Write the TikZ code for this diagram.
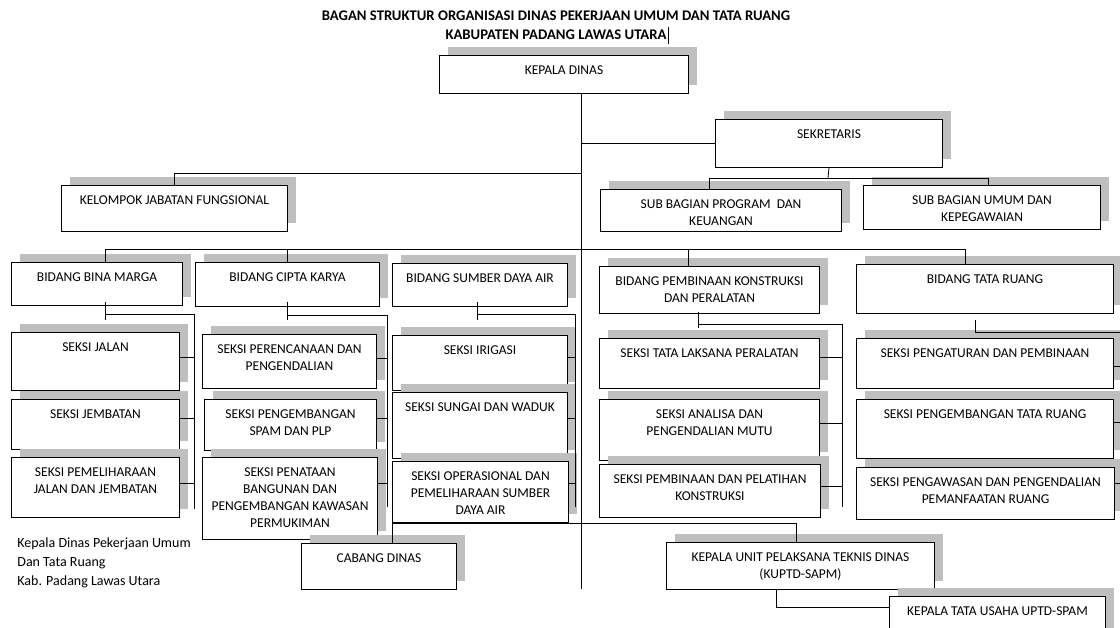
\documentclass[tikz,border=0pt]{standalone}
\usepackage{fontspec}
\setmainfont{Carlito}
\usetikzlibrary{shadows}

\begin{document}
\begin{tikzpicture}[x=1pt, y=-1pt, line width=0.8pt]
    % Define block styles
    \tikzstyle{block} = [rectangle, draw, fill=white, anchor=north west, inner sep=0pt, line width=1pt, drop shadow={shadow xshift=8pt, shadow yshift=9pt, fill=black!25, opacity=1}]
    \tikzstyle{lbl} = [anchor=north, yshift=-10.5pt, align=center, inner sep=0pt, font=\fontsize{13.5}{17}\selectfont]
    \tikzstyle{titletext} = [inner sep=0pt, font=\bfseries\fontsize{14.7}{17}\selectfont]
    \useasboundingbox (0,0) rectangle (1120,627);

    % Title
    \node[titletext] (title1) at (556,16) {BAGAN STRUKTUR ORGANISASI DINAS PEKERJAAN UMUM DAN TATA RUANG};
    \node[titletext] (title2) at (556,35) {KABUPATEN PADANG LAWAS UTARA};
    \draw[line width=0.6pt] ([xshift=1.5pt,yshift=3pt]title2.north east) -- ([xshift=1.5pt,yshift=-4pt]title2.south east);

    % Place nodes
    \node[block, minimum width=249pt, minimum height=38pt, label={[lbl]north:KEPALA DINAS}] (kadis) at (439,55) {};
    \node[block, minimum width=227pt, minimum height=48pt, label={[lbl]north:SEKRETARIS}] (sekr) at (715,119) {};
    \node[block, minimum width=226pt, minimum height=46pt, label={[lbl]north:KELOMPOK JABATAN FUNGSIONAL}] (kjf) at (61,185) {};
    \node[block, minimum width=241pt, minimum height=42pt, label={[lbl]north:SUB BAGIAN PROGRAM\ \ DAN\\KEUANGAN}] (sbp) at (600,189) {};
    \node[block, minimum width=237pt, minimum height=44pt, label={[lbl]north:SUB BAGIAN UMUM DAN\\KEPEGAWAIAN}] (sbu) at (863,185) {};

    \node[block, minimum width=171pt, minimum height=43pt, label={[lbl]north:BIDANG BINA MARGA}] (bm) at (11,262) {};
    \node[block, minimum width=184pt, minimum height=44pt, label={[lbl]north:BIDANG CIPTA KARYA}] (bck) at (195,262) {};
    \node[block, minimum width=175pt, minimum height=43pt, label={[lbl]north:BIDANG SUMBER DAYA AIR}] (bsda) at (392,263) {};
    \node[block, minimum width=220pt, minimum height=47pt, label={[lbl]north:BIDANG PEMBINAAN KONSTRUKSI\\DAN PERALATAN}] (bpk) at (599,266) {};
    \node[block, minimum width=257pt, minimum height=49pt, label={[lbl]north:BIDANG TATA RUANG}] (btr) at (856,264) {};

    \node[block, minimum width=168pt, minimum height=58pt, label={[lbl]north:SEKSI JALAN}] (jalan) at (11,332) {};
    \node[block, minimum width=168pt, minimum height=50pt, label={[lbl]north:SEKSI JEMBATAN}] (jembatan) at (11,399) {};
    \node[block, minimum width=168pt, minimum height=60pt, label={[lbl]north:SEKSI PEMELIHARAAN\\JALAN DAN JEMBATAN}] (pemel) at (11,457) {};

    \node[block, minimum width=174pt, minimum height=54pt, label={[lbl]north:SEKSI PERENCANAAN DAN\\PENGENDALIAN}] (perenc) at (202,334) {};
    \node[block, minimum width=172pt, minimum height=51pt, label={[lbl]north:SEKSI PENGEMBANGAN\\SPAM DAN PLP}] (spam) at (204,399) {};
    \node[block, minimum width=175pt, minimum height=82pt, label={[lbl]north:SEKSI PENATAAN\\BANGUNAN DAN\\PENGEMBANGAN KAWASAN\\PERMUKIMAN}] (penataan) at (202,457) {};

    \node[block, minimum width=175pt, minimum height=55pt, label={[lbl]north:SEKSI IRIGASI}] (irigasi) at (392,335) {};
    \node[block, minimum width=175pt, minimum height=66pt, label={[lbl]north:SEKSI SUNGAI DAN WADUK}] (sungai) at (392,392) {};
    \node[block, minimum width=176pt, minimum height=61pt, label={[lbl]north:SEKSI OPERASIONAL DAN\\PEMELIHARAAN SUMBER\\DAYA AIR}] (ops) at (392,461) {};

    \node[block, minimum width=220pt, minimum height=50pt, label={[lbl]north:SEKSI TATA LAKSANA PERALATAN}] (tatalaks) at (599,338) {};
    \node[block, minimum width=220pt, minimum height=61pt, label={[lbl]north:SEKSI ANALISA DAN\\PENGENDALIAN MUTU}] (analisa) at (599,399) {};
    \node[block, minimum width=221pt, minimum height=53pt, label={[lbl]north:SEKSI PEMBINAAN DAN PELATIHAN\\KONSTRUKSI}] (pelatihan) at (599,464) {};

    \node[block, minimum width=257pt, minimum height=50pt, label={[lbl]north:SEKSI PENGATURAN DAN PEMBINAAN}] (pengaturan) at (856,338) {};
    \node[block, minimum width=257pt, minimum height=59pt, label={[lbl]north:SEKSI PENGEMBANGAN TATA RUANG}] (pengembtr) at (856,399) {};
    \node[block, minimum width=258pt, minimum height=52pt, label={[lbl]north:SEKSI PENGAWASAN DAN PENGENDALIAN\\PEMANFAATAN RUANG}] (pengawasan) at (856,467) {};

    \node[block, minimum width=155pt, minimum height=46pt, label={[lbl]north:CABANG DINAS}] (cabang) at (301,543) {};
    \node[block, minimum width=268pt, minimum height=47pt, label={[lbl]north:KEPALA UNIT PELAKSANA TEKNIS DINAS\\(KUPTD-SAPM)}] (kuptd) at (666,542) {};
    \node[block, minimum width=216pt, minimum height=50pt, label={[lbl]north:KEPALA TATA USAHA UPTD-SPAM}] (ktu) at (889,596) {};

    \node[anchor=north west, align=left, inner sep=0pt, font=\fontsize{14}{19}\selectfont] (ket) at (17,537) {Kepala Dinas Pekerjaan Umum\\Dan Tata Ruang\\Kab. Padang Lawas Utara};

    % Junction points
    \coordinate (spine) at (581,589);
    \coordinate (jsek) at (828,178);
    \coordinate (jkjf) at (581,173);
    \coordinate (bus) at (581,249);
    \coordinate (rbm) at (194,509);
    \coordinate (rck) at (387,507);
    \coordinate (rsda) at (575,507);
    \coordinate (rbpk) at (842,507);
    \coordinate (rtr) at (1122,520);

    % Draw connections
    \draw (kadis.south -| spine) -- (spine);
    \draw (sekr.west -| spine) -- (sekr.west);
    \draw (kjf.north) |- (jkjf);
    \draw (sekr.south) -- (jsek);
    \draw ([xshift=-12pt]sbp.north) |- ([xshift=6pt]sbu.north |- jsek) -- ([xshift=6pt]sbu.north);
    \draw ([xshift=8pt]bm.north) |- ([xshift=-20pt]btr.north |- bus) -- ([xshift=-20pt]btr.north);
    \draw (bck.north) -- (bck.north |- bus);
    \draw ([xshift=-21pt]bpk.north) -- ([xshift=-21pt]bpk.north |- bus);

    % bidang to seksi
    \draw ([xshift=8pt,yshift=4pt]bm.south) -- ++(0,18);
    \draw ([xshift=8pt,yshift=-8pt]bm.south) -| (rbm);
    \draw ([yshift=5pt]bck.south) -- ++(0,18);
    \draw ([yshift=-8pt]bck.south) -| (rck);
    \draw ([xshift=-3pt,yshift=5pt]bsda.south) -- ++(0,18);
    \draw ([xshift=-3pt,yshift=-7pt]bsda.south) -| (rsda);
    \draw ([xshift=-11pt,yshift=2pt]bpk.south) -- ++(0,16);
    \draw ([xshift=-11pt,yshift=-10pt]bpk.south) -| (rbpk);
    \draw ([xshift=-9.5pt,yshift=-6pt]btr.south) -- ++(0,12) -| (rtr);

    \foreach \s/\dy in {jalan/4, jembatan/6, pemel/4}
        \draw ([yshift=\dy]\s.east) -- ([yshift=\dy]\s.east -| rbm);
    \foreach \s/\dy in {perenc/3, spam/6.5, penataan/15}
        \draw ([yshift=\dy]\s.east) -- ([yshift=\dy]\s.east -| rck);
    \foreach \s/\dy in {irigasi/5.5, sungai/7, ops/8.5}
        \draw ([yshift=\dy]\s.east) -- ([yshift=\dy]\s.east -| rsda);
    \foreach \s/\dy in {tatalaks/6, analisa/6.5, pelatihan/4.5}
        \draw ([yshift=\dy]\s.east) -- ([yshift=\dy]\s.east -| rbpk);
    \foreach \s/\dy in {pengaturan/-3, pengembtr/6.5, pengawasan/10}
        \draw ([yshift=\dy]\s.east) -- ([yshift=\dy]\s.east -| rtr);

    % lower units
    \draw (ops.south west) -| ([xshift=-4pt]kuptd.north);
    \draw (ops.south west) -- (ops.south west |- cabang.north);
    \draw ([xshift=-24pt]kuptd.south) |- ([yshift=14pt]ktu.west);

\end{tikzpicture}
\end{document}
